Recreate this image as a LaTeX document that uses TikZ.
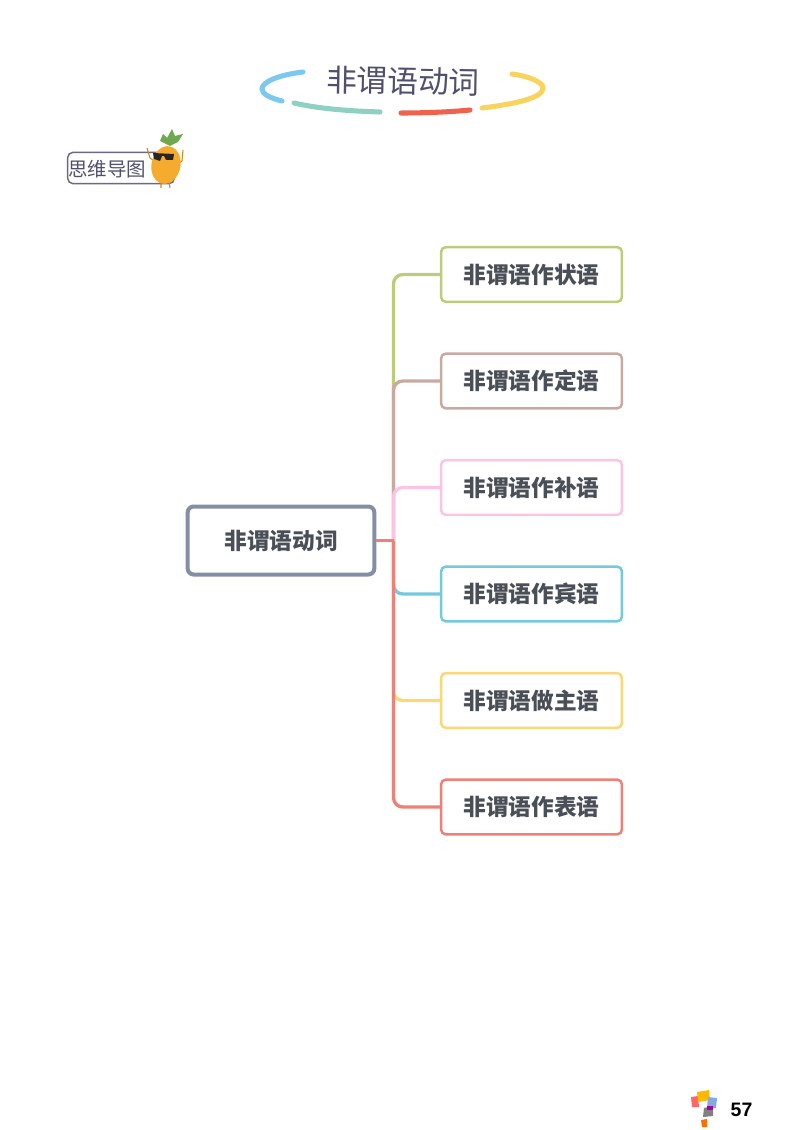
\documentclass[tikz,border=0pt]{standalone}
\usepackage{fontspec}
\setmainfont{Noto Sans CJK SC}
\newfontfamily\numfont{Liberation Sans}
\usetikzlibrary{positioning}
\definecolor{rootc}{HTML}{848EA6}
\definecolor{txtc}{HTML}{4A4F57}
\definecolor{titlec}{HTML}{50506E}
\definecolor{greenc}{HTML}{BCCB7C}
\definecolor{taupec}{HTML}{C9AAA0}
\definecolor{pinkc}{HTML}{FDC3E2}
\definecolor{bluec}{HTML}{74C9DD}
\definecolor{yellowc}{HTML}{FBD776}
\definecolor{redc}{HTML}{EE8078}
\definecolor{fruitc}{HTML}{F5AB2E}
\definecolor{leafc}{HTML}{6FA84F}
\definecolor{swblue}{HTML}{7CC8EE}
\definecolor{swteal}{HTML}{8ED1C0}
\definecolor{swred}{HTML}{F0624D}
\definecolor{swyellow}{HTML}{F8D35E}
\tikzset{
  leaf/.style={draw=#1, line width=1.9pt, rounded corners=3.5pt, fill=white, text=txtc,
    minimum width=135.6pt, minimum height=41pt, inner sep=0pt, font=\fontsize{17}{17}\selectfont\bfseries},
  rootbox/.style={draw=rootc, line width=3pt, rounded corners=4.5pt, fill=white, text=txtc,
    minimum width=140pt, minimum height=51pt, inner sep=0pt, font=\fontsize{17}{17}\selectfont\bfseries},
  link/.style={draw=#1, line width=2.5pt, rounded corners=7pt},
  swoosh/.style={draw=#1, line width=3.8pt, line cap=round},
  hand/.style={text=titlec, inner sep=0pt}
}
\begin{document}
\begin{tikzpicture}[x=0.75pt,y=-0.75pt]
\useasboundingbox (0,0) rectangle (800,1130);
% title
\node [hand, font=\fontsize{23}{23}\selectfont, rotate=-1] (title) at (403,81) {非谓语动词};
\draw [swoosh=swblue] (303,72) .. controls (278,75) and (262,82) .. (262,89) .. controls (262,94) and (270,98) .. (282,101);
\draw [swoosh=swteal] (294,103) .. controls (320,109) and (350,111) .. (380,112);
\draw [swoosh=swred] (401,113) .. controls (425,113) and (450,112) .. (470,110);
\draw [swoosh=swyellow] (482,108) .. controls (515,104) and (543,98) .. (543,88) .. controls (543,82) and (528,76) .. (512,74);
% tag with the pineapple
\node [draw=titlec!85!white, line width=1.1pt, rounded corners=4pt, minimum width=80pt, minimum height=23.5pt] (tag) at (121,168) {};
\node [hand, font=\fontsize{14.6}{14.6}\selectfont] (taglabel) at (107,169) {思维导图};
\fill [leafc] (160,141) -- (163,134) -- (167,138) -- (172,129) -- (175,136) -- (183,134) -- (178,142) -- (170,146) -- cycle;
\draw [fruitc!80!black, line width=0.8pt] (147,148) -- (150,158) -- (156,162);
\draw [fruitc!80!black, line width=0.8pt] (183,150) -- (182,161) -- (178,164);
\draw [fruitc!80!black, line width=0.8pt] (161,182) -- (161,188) (169,182) -- (170,188);
\fill [fruitc, rotate around={-12:(166,165)}] (166,165) ellipse [x radius=14.5, y radius=19];
\fill [black!85] (153,153) -- (174,154) -- (173,160) -- (166,160) -- (164,156) -- (162,156) -- (160,161) -- (154,159) -- cycle;
% mind map
\node [rootbox] (root) at (281,540.5) {非谓语动词};
\node [leaf=greenc] (adv) at (531.5,274.5) {非谓语作状语};
\node [leaf=taupec, below=36.97pt of adv] (attr) {非谓语作定语};
\node [leaf=pinkc, below=36.97pt of attr] (comp) {非谓语作补语};
\node [leaf=bluec, below=36.97pt of comp] (obj) {非谓语作宾语};
\node [leaf=yellowc, below=36.97pt of obj] (subj) {非谓语做主语};
\node [leaf=redc, below=36.97pt of subj] (pred) {非谓语作表语};
\coordinate (fork) at (393.5,540.5);
\draw [link=greenc] (fork) |- (adv.west);
\draw [link=taupec] (fork) |- (attr.west);
\draw [link=pinkc] (fork) |- (comp.west);
\draw [link=bluec] (fork) |- (obj.west);
\draw [link=yellowc] (fork) |- (subj.west);
\draw [link=redc] (fork) |- (pred.west);
\draw [draw=redc, line width=2.5pt] (root.east) -- (fork);
% page mark
\fill [red!60!pink!85!white] (691,1097) -- (698,1096) -- (699,1107) -- (692,1107) -- cycle;
\fill [orange!55!yellow] (697,1092) -- (709,1090) -- (710,1100) -- (698,1102) -- cycle;
\fill [cyan!55!blue!50!white] (708,1097) -- (717,1098) -- (716,1108) -- (707,1108) -- cycle;
\fill [gray] (704,1108) -- (713,1106) -- (713,1116) -- (703,1117) -- cycle;
\fill [violet!70!magenta] (707,1106) -- (713,1106) -- (713,1110) -- (707,1110) -- cycle;
\fill [orange!85!red] (701,1120) -- (707,1119) -- (707,1127) -- (702,1127) -- cycle;
\node [inner sep=0pt, font=\numfont\fontsize{14.6}{14.6}\selectfont\bfseries] (pageno) at (741.5,1110) {57};
\end{tikzpicture}
\end{document}
